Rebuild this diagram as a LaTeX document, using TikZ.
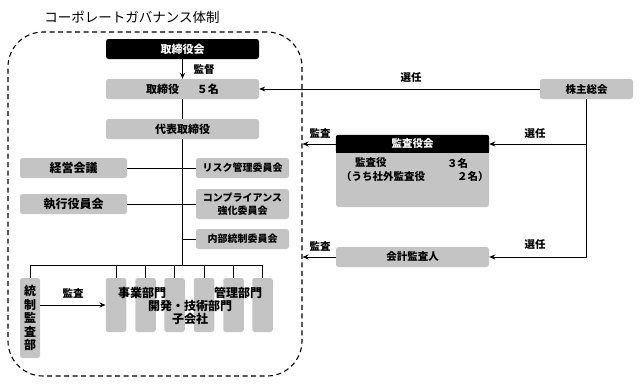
\documentclass[tikz,border=0pt]{standalone}
\usepackage{fontspec}
\setmainfont{Noto Sans CJK JP}
\usetikzlibrary{arrows.meta}
\definecolor{boxgray}{HTML}{C4C4C4}
\begin{document}
\begin{tikzpicture}[x=1pt,y=-1pt,
  gbox/.style={fill=boxgray, rounded corners=2.5pt, inner sep=0pt, font=\bfseries\fontsize{11}{12}\selectfont},
  bbox/.style={fill=black, text=white, rounded corners=2.5pt, inner sep=0pt, font=\bfseries\fontsize{11}{12}\selectfont},
  big/.style={font=\bfseries\fontsize{12}{13.5}\selectfont},
  small/.style={font=\bfseries\fontsize{10}{13.5}\selectfont},
  conn/.style={line width=1pt},
  arr/.style={line width=1pt, -{Stealth[length=6pt,width=5pt]}},
  lbl/.style={font=\bfseries\fontsize{10.5}{12}\selectfont, inner sep=1pt},
]
\useasboundingbox (0,0) rectangle (640,383);
% title
\node[font=\fontsize{13.5}{16}\selectfont] (title) at (132,17) {コーポレートガバナンス体制};
% dashed company frame
\node[draw, dash pattern=on 5pt off 3.5pt, line width=1.1pt, rounded corners=35pt, minimum width=294pt, minimum height=344pt, inner sep=0pt] (corp) at (155,204) {};
% top column
\node[bbox, minimum width=153pt, minimum height=20pt] (tkk) at (182.5,49) {取締役会};
\node[gbox, minimum width=153pt, minimum height=20pt] (tk) at (182.5,89) {取締役\hspace{1.6em}５名};
\node[gbox, minimum width=153pt, minimum height=20pt] (daihyo) at (182.5,129) {代表取締役};
% side boxes
\node[gbox, big, minimum width=107pt, minimum height=20pt] (keiei) at (73.5,168) {経営会議};
\node[gbox, big, minimum width=107pt, minimum height=20pt] (shikko) at (73.5,204) {執行役員会};
\node[gbox, small, minimum width=93pt, minimum height=20pt] (risk) at (242.5,168) {リスク管理委員会};
\node[gbox, small, minimum width=93pt, minimum height=30pt, align=center] (comp) at (242.5,204) {コンプライアンス\\強化委員会};
\node[gbox, small, minimum width=93pt, minimum height=20pt] (naibu) at (242.5,239) {内部統制委員会};
% bottom boxes
\node[gbox, big, minimum width=20pt, minimum height=80pt, align=center] (tcb) at (30,318) {統\\制\\監\\査\\部};
\node[gbox, minimum width=20.5pt, minimum height=54pt] (d1) at (116,305) {};
\node[gbox, minimum width=20.5pt, minimum height=54pt] (d2) at (145.5,305) {};
\node[gbox, minimum width=20.5pt, minimum height=54pt] (d3) at (174.5,305) {};
\node[gbox, minimum width=20.5pt, minimum height=54pt] (d4) at (204,305) {};
\node[gbox, minimum width=20.5pt, minimum height=54pt] (d5) at (233.5,305) {};
\node[gbox, minimum width=20.5pt, minimum height=54pt] (d6) at (262.5,305) {};
\node[big, inner sep=0pt] (t1) at (142,293) {事業部門};
\node[big, inner sep=0pt] (t2) at (238,293) {管理部門};
\node[big, inner sep=0pt] (t3) at (190,305.5) {開発・技術部門};
\node[big, inner sep=0pt] (t4) at (190,318.5) {子会社};
% connectors inside
\coordinate (busL) at (30,265);
\draw[arr] (tkk.south) -- (tk.north);
\node[lbl] (kantoku) at (204,70) {監督};
\draw[conn] (tk.south) -- (daihyo.north);
\draw[conn] (daihyo.south) -- (daihyo.south |- busL);
\draw[conn] (keiei.east) -- (risk.west);
\draw[conn] (shikko.east) -- (comp.west);
\draw[conn] (daihyo.south |- naibu.west) -- (naibu.west);
\draw[conn] (tcb.north) -- (busL) -- (d6.north |- busL) -- (d6.north);
\foreach \d in {d1,d2,d3,d4,d5} \draw[conn] (\d.north) -- (\d.north |- busL);
\draw[arr] (tcb.east |- d1.west) -- (d1.west);
\node[lbl] (kansa1) at (73,293) {監査};
% right side
\node[gbox, font=\bfseries\fontsize{10.5}{12}\selectfont, minimum width=93pt, minimum height=20pt] (kabu) at (586.5,89) {株主総会};
\node[gbox, minimum width=153pt, minimum height=72pt] (ka) at (412.5,171) {};
\fill[black, rounded corners=2.5pt] (ka.north west) rectangle ([yshift=-18pt]ka.north east);
\fill[black] ([yshift=-9pt]ka.north west) rectangle ([yshift=-18pt]ka.north east);
\node[lbl, text=white] (kah) at (412.5,144) {監査役会};
\node[lbl, anchor=west, inner sep=0pt] (kb1) at (355,163) {監査役};
\node[lbl, anchor=west, inner sep=0pt] (kb2) at (447,163) {３名};
\node[lbl, anchor=west, inner sep=0pt] (kb3) at (341,177) {（うち社外監査役};
\node[lbl, anchor=west, inner sep=0pt] (kb4) at (457,177) {２名）};
\node[gbox, font=\bfseries\fontsize{10.5}{12}\selectfont, minimum width=153pt, minimum height=20pt] (kaikei) at (412.5,257) {会計監査人};
\draw[arr] (kabu.west) -- (tk.east);
\node[lbl] (sen1) at (411,78) {選任};
\draw[arr] (kabu.south) -- (kabu.south |- kaikei.east) -- (kaikei.east);
\draw[arr] (kabu.south |- kah) -- (ka.east |- kah);
\node[lbl] (sen2) at (535,134) {選任};
\node[lbl] (sen3) at (535,245) {選任};
\draw[arr] (ka.west |- kah) -- (corp.east |- kah);
\node[lbl] (kansa2) at (320,133) {監査};
\draw[arr] (kaikei.west) -- (corp.east |- kaikei.west);
\node[lbl] (kansa3) at (320,246) {監査};
\end{tikzpicture}
\end{document}
